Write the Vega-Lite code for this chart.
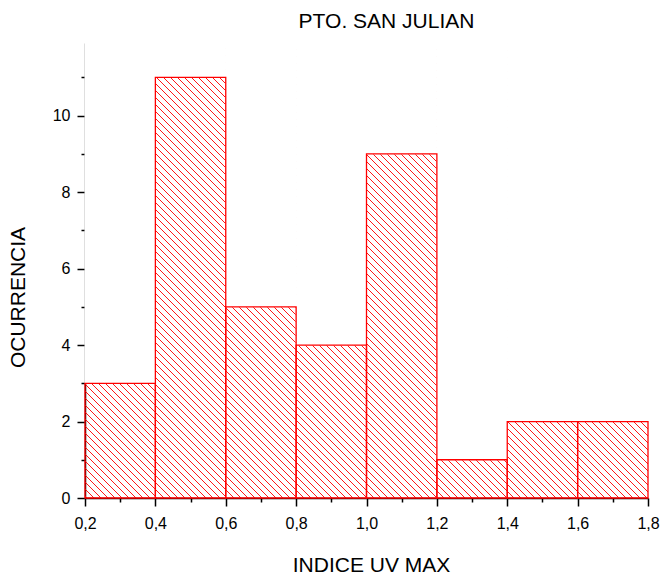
{
  "$schema": "https://vega.github.io/schema/vega-lite/v6.json",
  "width": 563,
  "height": 455,
  "autosize": {"type": "none"},
  "padding": {"left": 85, "top": 43, "right": 13, "bottom": 76},
  "background": "white",
  "title": {"text": "PTO. SAN JULIAN", "font": "Liberation Sans", "fontSize": 21, "fontWeight": "normal", "color": "black", "anchor": "middle", "frame": "group", "dx": 20, "baseline": "alphabetic", "offset": -6},
  "data": {"values": [
    {"bin_start": 0.2, "bin_end": 0.4, "count": 3},
    {"bin_start": 0.4, "bin_end": 0.6, "count": 11},
    {"bin_start": 0.6, "bin_end": 0.8, "count": 5},
    {"bin_start": 0.8, "bin_end": 1.0, "count": 4},
    {"bin_start": 1.0, "bin_end": 1.2, "count": 9},
    {"bin_start": 1.2, "bin_end": 1.4, "count": 1},
    {"bin_start": 1.4, "bin_end": 1.6, "count": 2},
    {"bin_start": 1.6, "bin_end": 1.8, "count": 2}
  ]},
  "resolve": {"axis": {"x": "independent", "y": "independent"}},
  "layer": [
    {
      "transform": [{"filter": "datum.bin_start === 0.2"}],
      "mark": {"type": "point", "size": 4, "filled": false, "stroke": "#ff0000", "strokeWidth": 1, "opacity": 0.9, "clip": true,
        "shape": "M-453,0l455,455M-446,0l455,455M-439,0l455,455M-432,0l455,455M-425,0l455,455M-418,0l455,455M-411,0l455,455M-404,0l455,455M-397,0l455,455M-390,0l455,455M-383,0l455,455M-376,0l455,455M-369,0l455,455M-362,0l455,455M-355,0l455,455M-348,0l455,455M-341,0l455,455M-334,0l455,455M-327,0l455,455M-320,0l455,455M-313,0l455,455M-306,0l455,455M-299,0l455,455M-292,0l455,455M-285,0l455,455M-278,0l455,455M-271,0l455,455M-264,0l455,455M-257,0l455,455M-250,0l455,455M-243,0l455,455M-236,0l455,455M-229,0l455,455M-222,0l455,455M-215,0l455,455M-208,0l455,455M-201,0l455,455M-194,0l455,455M-187,0l455,455M-180,0l455,455M-173,0l455,455M-166,0l455,455M-159,0l455,455M-152,0l455,455M-145,0l455,455M-138,0l455,455M-131,0l455,455M-124,0l455,455M-117,0l455,455M-110,0l455,455M-103,0l455,455M-96,0l455,455M-89,0l455,455M-82,0l455,455M-75,0l455,455M-68,0l455,455M-61,0l455,455M-54,0l455,455M-47,0l455,455M-40,0l455,455M-33,0l455,455M-26,0l455,455M-19,0l455,455M-12,0l455,455M-5,0l455,455M2,0l455,455M9,0l455,455M16,0l455,455M23,0l455,455M30,0l455,455M37,0l455,455M44,0l455,455M51,0l455,455M58,0l455,455M65,0l455,455M72,0l455,455M79,0l455,455M86,0l455,455M93,0l455,455M100,0l455,455M107,0l455,455M114,0l455,455M121,0l455,455M128,0l455,455M135,0l455,455M142,0l455,455M149,0l455,455M156,0l455,455M163,0l455,455M170,0l455,455M177,0l455,455M184,0l455,455M191,0l455,455M198,0l455,455M205,0l455,455M212,0l455,455M219,0l455,455M226,0l455,455M233,0l455,455M240,0l455,455M247,0l455,455M254,0l455,455M261,0l455,455M268,0l455,455M275,0l455,455M282,0l455,455M289,0l455,455M296,0l455,455M303,0l455,455M310,0l455,455M317,0l455,455M324,0l455,455M331,0l455,455M338,0l455,455M345,0l455,455M352,0l455,455M359,0l455,455M366,0l455,455M373,0l455,455M380,0l455,455M387,0l455,455M394,0l455,455M401,0l455,455M408,0l455,455M415,0l455,455M422,0l455,455M429,0l455,455M436,0l455,455M443,0l455,455M450,0l455,455M457,0l455,455M464,0l455,455M471,0l455,455M478,0l455,455M485,0l455,455M492,0l455,455M499,0l455,455M506,0l455,455M513,0l455,455M520,0l455,455M527,0l455,455M534,0l455,455M541,0l455,455M548,0l455,455M555,0l455,455M562,0l455,455M569,0l455,455"},
      "encoding": {
        "x": {"field": "bin_start", "type": "quantitative", "scale": {"domain": [0.2, 1.8], "nice": false, "zero": false}, "axis": null},
        "y": {"datum": 11.9, "type": "quantitative", "scale": {"domain": [0, 11.9], "nice": false}, "axis": null}
      }
    },
    {
      "mark": {"type": "rect", "fill": "white", "stroke": "white", "strokeWidth": 1},
      "encoding": {
        "x": {"field": "bin_start", "type": "quantitative", "scale": {"domain": [0.2, 1.8], "nice": false, "zero": false},
          "axis": {"orient": "bottom", "title": null, "values": [0.3, 0.5, 0.7, 0.9, 1.1, 1.3, 1.5, 1.7], "labels": false, "domain": false, "grid": false,
            "tickSize": 4, "tickColor": "black", "tickWidth": 1.5}},
        "x2": {"field": "bin_end"},
        "y": {"field": "count", "type": "quantitative", "scale": {"domain": [0, 11.9], "nice": false},
          "axis": {"orient": "left", "title": null, "values": [1, 3, 5, 7, 9, 11], "labels": false, "domain": false, "grid": false,
            "tickSize": 4, "tickColor": "black", "tickWidth": 1.5}},
        "y2": {"datum": 11.9}
      }
    },
    {
      "mark": {"type": "rect", "fill": "#ff0000", "fillOpacity": 0, "stroke": "#ff0000", "strokeWidth": 1.3},
      "encoding": {
        "x": {"field": "bin_start", "type": "quantitative", "scale": {"domain": [0.2, 1.8], "nice": false, "zero": false},
          "axis": {"orient": "bottom", "title": "INDICE UV MAX", "values": [0.2, 0.4, 0.6, 0.8, 1.0, 1.2, 1.4, 1.6, 1.8],
            "labelExpr": "replace(format(datum.value, '.1f'), '.', ',')",
            "tickSize": 8, "labelPadding": 9, "labelFlush": false, "labelOverlap": false, "grid": false,
            "domainColor": "black", "domainWidth": 1.5, "tickColor": "black", "tickWidth": 1.5,
            "labelFont": "Liberation Sans", "labelFontSize": 16, "labelColor": "black",
            "titleFont": "Liberation Sans", "titleFontSize": 21, "titleFontWeight": "normal", "titleColor": "black",
            "titleX": 286, "titleY": 73, "titleBaseline": "alphabetic", "titleAlign": "center"}},
        "x2": {"field": "bin_end"},
        "y": {"field": "count", "type": "quantitative", "scale": {"domain": [0, 11.9], "nice": false},
          "axis": {"orient": "left", "title": "OCURRENCIA", "values": [0, 2, 4, 6, 8, 10],
            "tickSize": 8, "labelPadding": 7, "labelOverlap": false, "grid": false,
            "domainColor": "black", "domainWidth": 1.5, "tickColor": "black", "tickWidth": 1.5,
            "labelFont": "Liberation Sans", "labelFontSize": 16, "labelColor": "black",
            "titleFont": "Liberation Sans", "titleFontSize": 21, "titleFontWeight": "normal", "titleColor": "black",
            "titleX": -61, "titleY": 254, "titleAngle": 270, "titleBaseline": "alphabetic", "titleAlign": "center"}},
        "y2": {"datum": 0}
      }
    }
  ],
  "config": {"view": {"stroke": null}}
}
